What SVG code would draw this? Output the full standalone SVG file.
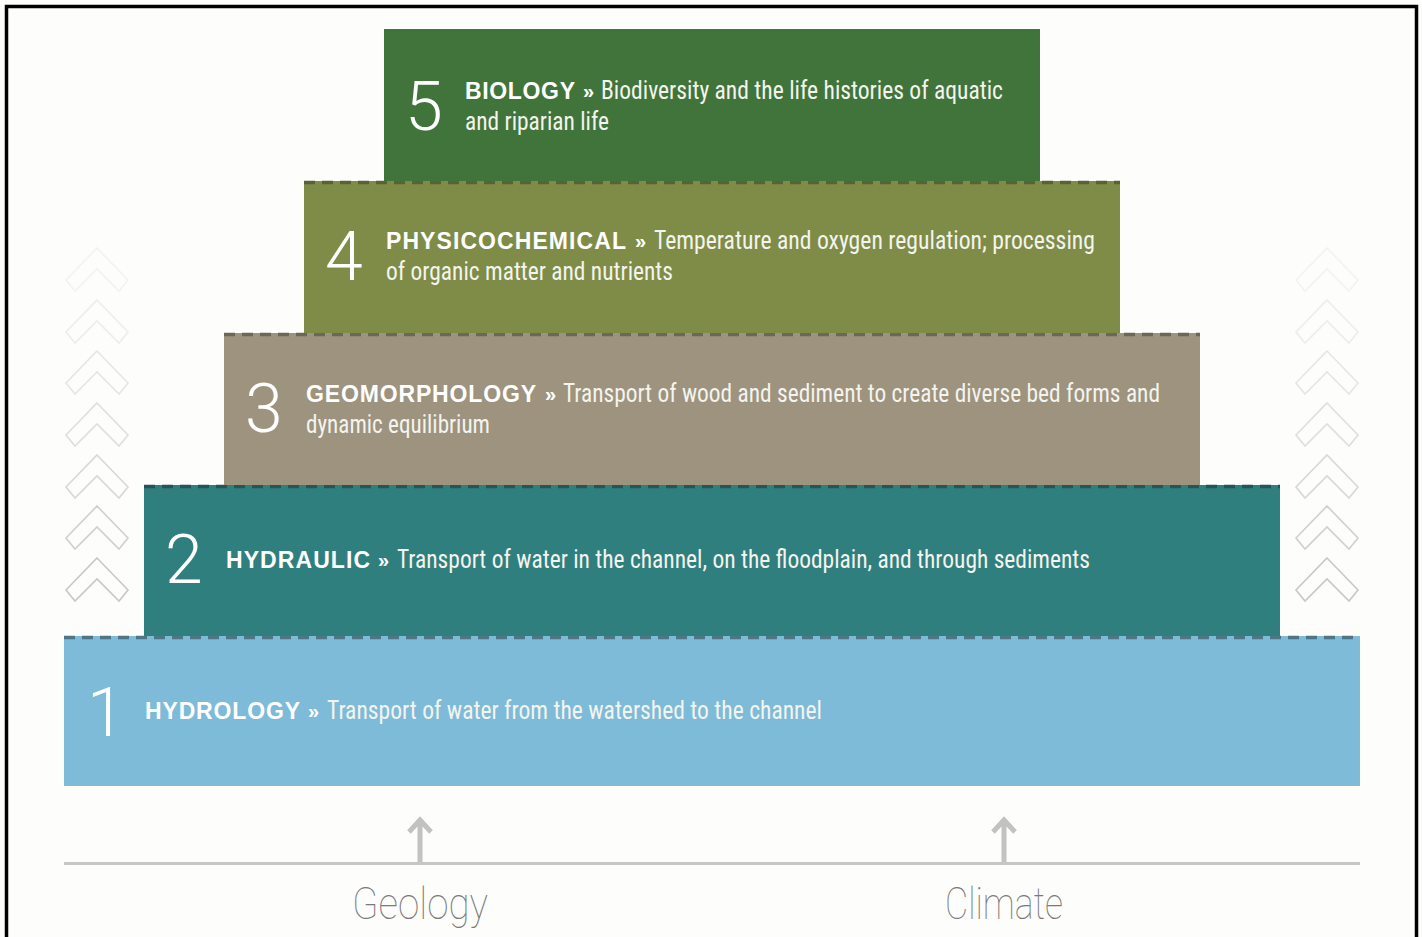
<svg xmlns="http://www.w3.org/2000/svg" width="1422" height="937" viewBox="0 0 1422 937">
  <style>
    .num { font-family: Roboto, "Liberation Sans", sans-serif; font-weight: 300; font-size: 68px; fill: #ffffff; }
    .ttl { font-family: "Liberation Sans", Arial, sans-serif; font-weight: bold; font-size: 23px; fill: #ffffff; }
    .gt { font-family: "Liberation Sans", Arial, sans-serif; font-weight: bold; font-size: 20px; fill: #ffffff; }
    .dsc { font-family: "Liberation Sans Narrow", "Roboto Condensed", "DejaVu Sans Condensed", sans-serif; font-stretch: condensed; font-size: 25px; fill: #f4f4ee; }
    .dash { stroke-width: 3.5; stroke-dasharray: 11 7; fill: none; }
    .chev { fill: none; stroke-width: 1.6; }
    .base { font-family: Roboto, "Liberation Sans", sans-serif; font-weight: 100; font-size: 44px; fill: #7a7a7a; text-anchor: middle; }
  </style>
  <defs>
    <path id="chev" d="M0,0 L31,32 L22,43 L0,21 L-22,43 L-31,32 Z"/>
  </defs>

  <rect x="0" y="0" width="1422" height="937" fill="#fdfdfb"/>
  <rect x="6.5" y="6.5" width="1410" height="945" fill="none" stroke="#000000" stroke-width="3.5"/>

  <g id="chevrons-left">
    <use href="#chev" x="97" y="248" class="chev" stroke="#f3f3f3"/>
    <use href="#chev" x="97" y="300" class="chev" stroke="#ededed"/>
    <use href="#chev" x="97" y="351" class="chev" stroke="#e6e6e6"/>
    <use href="#chev" x="97" y="403" class="chev" stroke="#dfdfdf"/>
    <use href="#chev" x="97" y="455" class="chev" stroke="#d8d8d8"/>
    <use href="#chev" x="97" y="506" class="chev" stroke="#d0d0d0"/>
    <use href="#chev" x="97" y="558" class="chev" stroke="#c8c8c8"/>
  </g>
  <g id="chevrons-right">
    <use href="#chev" x="1327" y="248" class="chev" stroke="#f3f3f3"/>
    <use href="#chev" x="1327" y="300" class="chev" stroke="#ededed"/>
    <use href="#chev" x="1327" y="351" class="chev" stroke="#e6e6e6"/>
    <use href="#chev" x="1327" y="403" class="chev" stroke="#dfdfdf"/>
    <use href="#chev" x="1327" y="455" class="chev" stroke="#d8d8d8"/>
    <use href="#chev" x="1327" y="506" class="chev" stroke="#d0d0d0"/>
    <use href="#chev" x="1327" y="558" class="chev" stroke="#c8c8c8"/>
  </g>

  <g id="layer1">
    <rect x="64" y="636" width="1296" height="150" fill="#7dbbd8"/>
    <line x1="64" y1="637.5" x2="1360" y2="637.5" class="dash" stroke="#4f7587"/>
    <text x="87" y="736" class="num">1</text>
    <text x="145" y="719" class="ttl" textLength="155" lengthAdjust="spacing">HYDROLOGY</text>
    <text x="308" y="718" class="gt">»</text>
    <text x="327" y="719" class="dsc" textLength="495" lengthAdjust="spacingAndGlyphs">Transport of water from the watershed to the channel</text>
  </g>

  <g id="layer2">
    <rect x="144" y="485" width="1136" height="151" fill="#2f7f7f"/>
    <line x1="144" y1="486.5" x2="1280" y2="486.5" class="dash" stroke="#285454"/>
    <text x="165" y="583" class="num">2</text>
    <text x="226" y="568" class="ttl" textLength="144" lengthAdjust="spacing">HYDRAULIC</text>
    <text x="378" y="567" class="gt">»</text>
    <text x="397" y="568" class="dsc" textLength="693" lengthAdjust="spacingAndGlyphs">Transport of water in the channel, on the floodplain, and through sediments</text>
  </g>

  <g id="layer3">
    <rect x="224" y="333" width="976" height="152" fill="#9d937f"/>
    <line x1="224" y1="334.5" x2="1200" y2="334.5" class="dash" stroke="#6b6759"/>
    <text x="245" y="432" class="num">3</text>
    <text x="306" y="402" class="ttl" textLength="230" lengthAdjust="spacing">GEOMORPHOLOGY</text>
    <text x="545" y="401" class="gt">»</text>
    <text x="563" y="402" class="dsc" textLength="597" lengthAdjust="spacingAndGlyphs">Transport of wood and sediment to create diverse bed forms and</text>
    <text x="306" y="433" class="dsc" textLength="184" lengthAdjust="spacingAndGlyphs">dynamic equilibrium</text>
  </g>

  <g id="layer4">
    <rect x="304" y="181" width="816" height="152" fill="#7e8c47"/>
    <line x1="304" y1="182.5" x2="1120" y2="182.5" class="dash" stroke="#596234"/>
    <text x="325" y="280" class="num">4</text>
    <text x="386" y="249" class="ttl" textLength="240" lengthAdjust="spacing">PHYSICOCHEMICAL</text>
    <text x="635" y="248" class="gt">»</text>
    <text x="654" y="249" class="dsc" textLength="441" lengthAdjust="spacingAndGlyphs">Temperature and oxygen regulation; processing</text>
    <text x="386" y="280" class="dsc" textLength="287" lengthAdjust="spacingAndGlyphs">of organic matter and nutrients</text>
  </g>

  <g id="layer5">
    <rect x="384" y="29" width="656" height="152" fill="#41743a"/>
    <text x="405" y="130" class="num">5</text>
    <text x="465" y="99" class="ttl" textLength="110" lengthAdjust="spacing">BIOLOGY</text>
    <text x="583" y="98" class="gt">»</text>
    <text x="601" y="99" class="dsc" textLength="402" lengthAdjust="spacingAndGlyphs">Biodiversity and the life histories of aquatic</text>
    <text x="465" y="130" class="dsc" textLength="144" lengthAdjust="spacingAndGlyphs">and riparian life</text>
  </g>

  <g id="connectors">
    <line x1="64" y1="863.5" x2="1360" y2="863.5" stroke="#c6c6c6" stroke-width="3"/>
    <path d="M420,862 V820 M409,832 L420,820 L431,832" fill="none" stroke="#c2c2c2" stroke-width="5"/>
    <path d="M1004,862 V820 M993,832 L1004,820 L1015,832" fill="none" stroke="#c2c2c2" stroke-width="5"/>
  </g>

  <g id="geology">
    <text x="420" y="919" class="base" textLength="136" lengthAdjust="spacingAndGlyphs">Geology</text>
  </g>
  <g id="climate">
    <text x="1004" y="919" class="base" textLength="118" lengthAdjust="spacingAndGlyphs">Climate</text>
  </g>
</svg>
